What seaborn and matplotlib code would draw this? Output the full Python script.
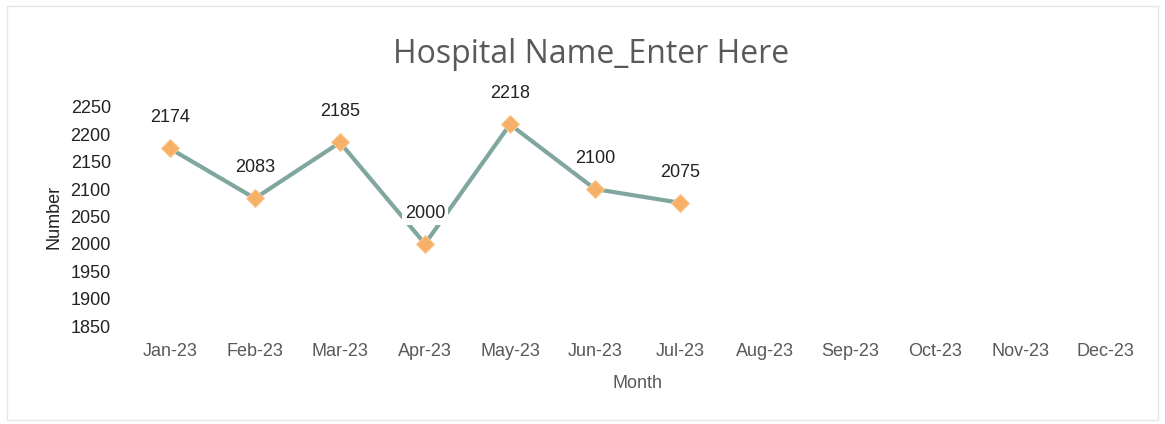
import seaborn as sns
import matplotlib.pyplot as plt
import pandas as pd

months = ["Jan-23", "Feb-23", "Mar-23", "Apr-23", "May-23", "Jun-23",
          "Jul-23", "Aug-23", "Sep-23", "Oct-23", "Nov-23", "Dec-23"]
numbers = [2174, 2083, 2185, 2000, 2218, 2100, 2075]
y_ticks = [1850, 1900, 1950, 2000, 2050, 2100, 2150, 2200, 2250]

df = pd.DataFrame({"Month": months[:len(numbers)], "Number": numbers})

sns.set_style("white")
plt.rcParams["font.family"] = ["Liberation Sans", "DejaVu Sans"]

fig = plt.figure(figsize=(11.65, 4.24), dpi=100)
ax = fig.add_axes([0.1094, 0.231, 0.8756, 0.517])

sns.lineplot(x="Month", y="Number", data=df, ax=ax, color="#7fa69f",
             linewidth=3, marker="D", markersize=9,
             markerfacecolor="#f7b067", markeredgecolor="#fbc98f", zorder=2)

for i, v in enumerate(numbers):
    ax.annotate(str(v), (i, v), xytext=(0, 22), textcoords="offset points",
                ha="center", va="center", fontsize=13, color="#222222",
                bbox=dict(boxstyle="square,pad=0.15", fc="white", ec="none"),
                zorder=3)

ax.set_xticks(range(len(months)))
ax.set_xticklabels(months)
ax.set_xlim(-0.5, len(months) - 0.5)
ax.set_yticks(y_ticks)
ax.set_ylim(1850, 2250)
ax.tick_params(axis="both", labelsize=13, length=0, labelcolor="#595959")
ax.tick_params(axis="y", labelcolor="#222222", pad=12)
ax.tick_params(axis="x", pad=12)
for s in ax.spines.values():
    s.set_visible(False)
ax.set_xlabel("Month", fontsize=13, color="#595959", labelpad=11)
ax.set_ylabel("Number", fontsize=13, color="#222222", labelpad=6)
fig.suptitle("Hospital Name_Enter Here", x=0.507, y=0.91, fontsize=23,
             color="#595959", family=["Open Sans", "DejaVu Sans"])

fig.patches.append(plt.Rectangle((0.006, 0.01), 0.988, 0.975, transform=fig.transFigure,
                                 fill=False, ec="#e6e6e6", lw=1))
fig.savefig("out.png", dpi=100)
